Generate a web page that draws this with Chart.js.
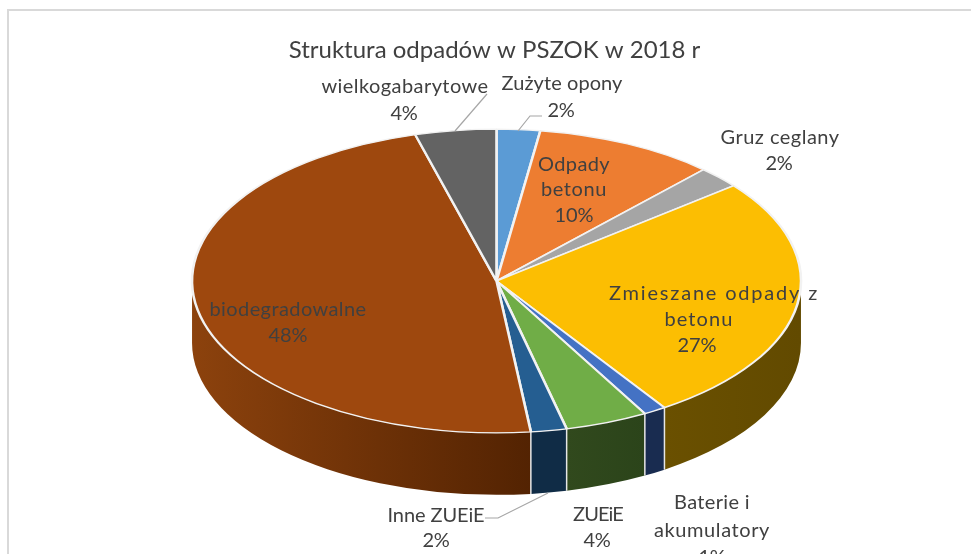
<!DOCTYPE html>
<html>
<head>
<meta charset="utf-8">
<title>Struktura odpadów w PSZOK w 2018 r</title>
<script src="https://cdn.jsdelivr.net/npm/chart.js@4"></script>
<style>
  html, body { margin: 0; padding: 0; background: #ffffff; overflow: hidden; }
  canvas { display: block; }
</style>
</head>
<body>
<canvas id="pie" width="971" height="554"></canvas>
<script>
const chartTitle = "Struktura odpadów w PSZOK w 2018 r";
const categories = ["Zużyte opony", "Odpady betonu", "Gruz ceglany", "Zmieszane odpady z betonu", "Baterie i akumulatory", "ZUEiE", "Inne ZUEiE", "biodegradowalne", "wielkogabarytowe"];
const values = [2.3, 9.6, 2.3, 26.5, 1.2, 4.4, 1.9, 47.5, 4.3];
const percentLabels = ["2%", "10%", "2%", "27%", "1%", "4%", "2%", "48%", "4%"];

const topColors = ["#5b9bd5", "#ed7d31", "#a5a5a5", "#fcbe02", "#4472c4", "#70ad47", "#255e91", "#9e480e", "#636363"];
// side wall colours, left and right end of the gradient
const wallColors = [
  ["#335c80", "#335c80"], ["#8c4a1d", "#8c4a1d"], ["#636363", "#636363"],
  ["#6a5000", "#624a00"], ["#192c50", "#192c50"], ["#31491d", "#2b441a"],
  ["#102c46", "#102c46"], ["#8c420d", "#532302"], ["#3b3b3b", "#3b3b3b"],
];

// how the category names wrap, then where each text line sits and how wide it runs
const wrappedNames = [
  ["Zużyte opony"], ["Odpady", "betonu"], ["Gruz ceglany"],
  ["Zmieszane odpady z", "betonu"], ["Baterie i", "akumulatory"],
  ["ZUEiE"], ["Inne ZUEiE"], ["biodegradowalne"], ["wielkogabarytowe"],
];
const labelSpots = [
  [[562, 84], [561, 111]], [[574, 165], [574, 190], [574, 216]], [[780, 138], [779, 164]],
  [[714, 294], [699, 320], [697, 346]], [[712, 503], [712, 531], [712, 558]],
  [[598, 515], [597, 541]], [[436, 516], [436, 541]], [[288, 310], [288, 336]], [[405, 87], [404, 114]],
];
const labelWidths = [
  [121, 27], [72, 66, 39], [119, 27],
  [210, 69, 39], [76, 116, 27],
  [50, 27], [97, 27], [157, 39], [167, 27],
];
const leaderLines = [
  [[487, 94], [455, 131]],
  [[542, 116], [530, 116], [518, 131]],
  [[485, 518], [498, 518], [548, 493]],
];

const STRETCH = 2.005;
const DEPTH = 62;
const FONT = "Lato";
const TEXT_COLOR = "#404040";

// canvas text stretched to the width it has in the reference
function fitText(ctx, text, x, y, width) {
  ctx.letterSpacing = "0px";
  const spare = width - ctx.measureText(text).width;
  ctx.letterSpacing = (spare / text.length).toFixed(2) + "px";
  ctx.fillText(text, x, y);
  ctx.letterSpacing = "0px";
}

const pie3d = {
  id: "pie3d",
  afterLayout(chart) {
    chart.titleBlock.left -= 2;
    chart.titleBlock.right -= 2;
  },
  beforeDraw(chart) {
    const ctx = chart.ctx;
    ctx.fillStyle = "#d9d9d9";
    ctx.fillRect(7, 9, 964, 2);
    ctx.fillRect(7, 9, 2, 545);
  },
  beforeDatasetsDraw(chart) {
    const ctx = chart.ctx;
    const arcs = chart.getDatasetMeta(0).data;
    const cx = arcs[0].x;
    const cy = arcs[0].y;
    const ry = arcs[0].outerRadius;
    const rx = ry * STRETCH;

    // front wall, only the part of each slice facing the viewer
    const edges = [];
    arcs.forEach((arc, i) => {
      const from = Math.max(arc.startAngle, 0);
      const to = Math.min(arc.endAngle, Math.PI);
      if (to <= from) return;
      const x0 = cx + rx * Math.cos(to);
      const x1 = cx + rx * Math.cos(from);
      const fill = ctx.createLinearGradient(x0, 0, x1, 0);
      fill.addColorStop(0, wallColors[i][0]);
      fill.addColorStop(1, wallColors[i][1]);
      ctx.beginPath();
      ctx.ellipse(cx, cy, rx, ry, 0, from, to);
      ctx.ellipse(cx, cy + DEPTH, rx, ry, 0, to, from, true);
      ctx.closePath();
      ctx.fillStyle = fill;
      ctx.fill();
      if (from > 0) edges.push(from);
    });

    ctx.strokeStyle = "#e6e6e6";
    ctx.lineWidth = 1.5;
    edges.forEach((a) => {
      const x = cx + rx * Math.cos(a);
      const y = cy + ry * Math.sin(a);
      ctx.beginPath();
      ctx.moveTo(x, y);
      ctx.lineTo(x, y + DEPTH);
      ctx.stroke();
    });

    // the library draws the top face, squeezed into an ellipse
    ctx.save();
    ctx.translate(cx, 0);
    ctx.scale(STRETCH, 1);
    ctx.translate(-cx, 0);
  },
  afterDatasetsDraw(chart) {
    const ctx = chart.ctx;
    ctx.restore();

    ctx.strokeStyle = "#a6a6a6";
    ctx.lineWidth = 1.2;
    leaderLines.forEach((line) => {
      ctx.beginPath();
      line.forEach((p, i) => (i ? ctx.lineTo(p[0], p[1]) : ctx.moveTo(p[0], p[1])));
      ctx.stroke();
    });

    ctx.fillStyle = TEXT_COLOR;
    ctx.font = "20px " + FONT;
    ctx.textAlign = "center";
    ctx.textBaseline = "middle";
    wrappedNames.forEach((names, i) => {
      const lines = names.concat(percentLabels[i]);
      lines.forEach((text, j) => {
        fitText(ctx, text, labelSpots[i][j][0], labelSpots[i][j][1], labelWidths[i][j]);
      });
    });
  },
};

new Chart(document.getElementById("pie"), {
  type: "pie",
  data: {
    labels: categories,
    datasets: [
      {
        data: values,
        backgroundColor: topColors,
        borderColor: "#f2f2f2",
        borderWidth: 1.3,
        clip: false,
      },
    ],
  },
  options: {
    responsive: false,
    animation: false,
    layout: { padding: { left: 22, top: 30, bottom: 120.5 } },
    plugins: {
      legend: { display: false },
      tooltip: { enabled: false },
      title: {
        display: true,
        text: chartTitle,
        color: TEXT_COLOR,
        font: { family: FONT, size: 24, weight: "normal", lineHeight: 1.2 },
        padding: { top: 6, bottom: 63.7 },
      },
    },
  },
  plugins: [pie3d],
});
</script>
</body>
</html>
